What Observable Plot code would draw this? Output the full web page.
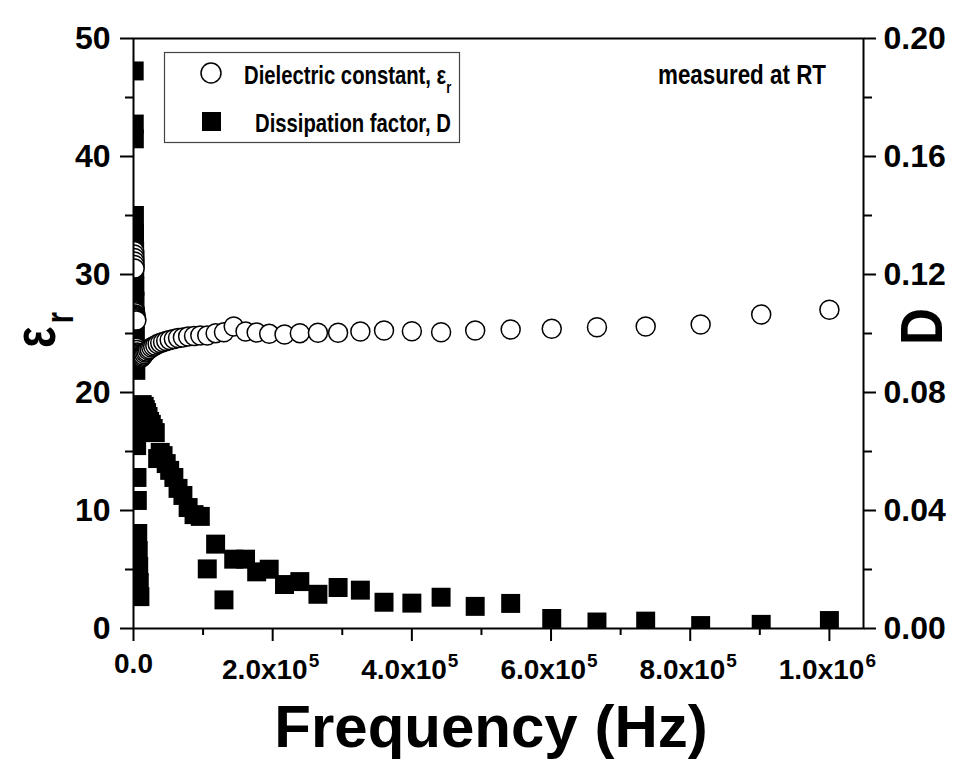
<!DOCTYPE html>
<html><head><meta charset="utf-8">
<script src="https://cdn.jsdelivr.net/npm/d3@7"></script>
<script src="https://cdn.jsdelivr.net/npm/@observablehq/plot@0.6"></script>
<style>
html,body{margin:0;padding:0;background:#fff;}
#chart{position:relative;width:955px;height:760px;}
svg text{font-family:'Liberation Sans',Arial,sans-serif;}
</style></head><body><div id="chart"></div>
<script>
// Frequency sweep (Hz), ascending
const frequency = [
  1000, 1100, 1200, 1350, 1500, 1650, 1800, 2000, 2200, 2500, 2700, 3000, 3350, 3700, 4100, 4500, 5000, 5500, 6100, 6800, 7500, 8300, 9200,
  10200, 11300, 12500, 13900, 15400, 17000, 18800, 20900, 23100, 25600, 28300, 31300, 34700, 38400, 42500, 47000, 52000, 58000, 64000, 71000, 78500, 87000, 96000,
  106000, 118000, 130000, 144000, 161000, 177000, 195000, 217000, 239000, 265000, 294000, 326000, 360000, 400000, 442000, 491000, 542000, 601000, 666000, 736000, 815000, 902000, 1000000
];
// Dielectric constant, epsilon_r (left axis)
const epsilonR = [
  32.0, 31.7, 31.4, 31.1, 30.8, 30.5, 27.0, 26.9, 26.8, 26.6, 26.5, 26.4, 26.3, 26.2, 26.1, 23.8, 23.6, 23.4, 23.3, 23.2, 23.1, 23.0, 22.95,
  22.92, 22.97, 23.05, 23.14, 23.26, 23.39, 23.47, 23.60, 23.69, 23.81, 23.90, 23.98, 24.11, 24.19, 24.28, 24.36, 24.45, 24.53, 24.62, 24.66, 24.75, 24.79, 24.83,
  24.83, 25.03, 25.11, 25.59, 25.17, 25.08, 24.97, 24.92, 25.03, 25.06, 25.06, 25.17, 25.25, 25.19, 25.11, 25.25, 25.34, 25.40, 25.53, 25.59, 25.76, 26.61, 27.01
];
// Dissipation factor, D (right axis)
const dissipation = [
  0.189, 0.171, 0.166, 0.140, 0.134, 0.128, 0.122, 0.116, 0.111, 0.105, 0.099, 0.094, 0.0875, 0.0732, 0.0678, 0.062, 0.0512, 0.0434, 0.0322, 0.0264, 0.021, 0.0156, 0.0108,
  0.0745, 0.0749, 0.0759, 0.0739, 0.0753, 0.0742, 0.0732, 0.0719, 0.0702, 0.0692, 0.0678, 0.0664, 0.0576, 0.0597, 0.0586, 0.0559, 0.0536, 0.0512, 0.0475, 0.0451, 0.0410, 0.0386, 0.0380,
  0.0202, 0.0286, 0.0097, 0.0235, 0.0235, 0.0192, 0.0201, 0.0149, 0.0159, 0.0116, 0.0139, 0.0130, 0.0089, 0.0086, 0.0106, 0.0075, 0.0085, 0.0034, 0.0022, 0.0025, 0.0010, 0.0014, 0.0027
];

const xTickValues = [0, 200000, 400000, 600000, 800000, 1000000];
const xTickMantissa = ["0.0", "2.0x10", "4.0x10", "6.0x10", "8.0x10", "1.0x10"];
const xTickExponent = ["", "5", "5", "5", "5", "6"];
const xMinorTicks = [100000, 300000, 500000, 700000, 900000];
const yLeftTicks = [0, 10, 20, 30, 40, 50];
const yLeftMinor = [5, 15, 25, 35, 45];
const dRightTicks = [0, 0.04, 0.08, 0.12, 0.16, 0.20];
const dRightLabels = ["0.00", "0.04", "0.08", "0.12", "0.16", "0.20"];
const dRightMinor = [0.02, 0.06, 0.10, 0.14, 0.18];
const seriesLabels = ["Dielectric constant, ", "Dissipation factor, D"];
const xTitle = "Frequency (Hz)";
const note = "measured at RT";

// D axis maps 0..0.20 onto the same vertical range as epsilon 0..50
const D_TO_EPS = 50 / 0.2;
const rows = frequency.map((f, i) => ({f, eps: epsilonR[i], D: dissipation[i]}));
const xTicks = xTickValues.map((v, i) => ({v, m: xTickMantissa[i], e: xTickExponent[i]}));
const FONT = "'Liberation Sans', Arial, sans-serif";

const plot = Plot.plot({
  width: 955, height: 760,
  marginLeft: 133, marginRight: 92, marginTop: 38, marginBottom: 132,
  style: {fontFamily: FONT, background: "white", color: "black", overflow: "visible", fontWeight: "bold"},
  x: {domain: [0, 1049000], axis: null, label: null},
  y: {domain: [0, 50], axis: null, label: null},
  marks: [
    Plot.dot(rows, {x: "f", y: d => d.D * D_TO_EPS, symbol: "square", r: 10.7, fill: "black", stroke: "none", clip: true}),
    Plot.dot(rows, {x: "f", y: "eps", r: 9.5, fill: "white", stroke: "black", strokeWidth: 1.5, clip: true}),
    Plot.frame({stroke: "black", strokeWidth: 2}),
    // left axis
    Plot.axisY(yLeftTicks, {anchor: "left", tickSize: 13, tickPadding: 10, strokeWidth: 2, fontSize: 32, fontWeight: "bold", label: null}),
    Plot.axisY(yLeftMinor, {anchor: "left", tickSize: 8, strokeWidth: 2, fill: "none", label: null}),
    // right axis (D)
    Plot.axisY(dRightTicks.map(d => d * D_TO_EPS), {anchor: "right", tickSize: 12, tickPadding: 8, strokeWidth: 2, fontSize: 32, fontWeight: "bold", label: null,
      tickFormat: (d) => dRightLabels[dRightTicks.findIndex(t => Math.abs(t * D_TO_EPS - d) < 1e-6)]}),
    Plot.axisY(dRightMinor.map(d => d * D_TO_EPS), {anchor: "right", tickSize: 8, strokeWidth: 2, fill: "none", label: null}),
    // bottom axis ticks
    Plot.axisX(xTickValues, {anchor: "bottom", tickSize: 13, strokeWidth: 2, fill: "none", label: null}),
    Plot.axisX(xMinorTicks, {anchor: "bottom", tickSize: 7, strokeWidth: 2, fill: "none", label: null}),
    // bottom tick labels with superscript exponents
    Plot.text(xTicks.filter(t => !t.e), {x: "v", frameAnchor: "bottom", text: "m", dy: 44, lineAnchor: "bottom", fontSize: 28, fontWeight: "bold", fill: "black"}),
    Plot.text(xTicks.filter(t => t.e), {x: "v", frameAnchor: "bottom", text: "m", dx: 35, dy: 50, textAnchor: "end", lineAnchor: "bottom", fontSize: 28, fontWeight: "bold", fill: "black"}),
    Plot.text(xTicks.filter(t => t.e), {x: "v", frameAnchor: "bottom", text: "e", dx: 36, dy: 38, textAnchor: "start", lineAnchor: "bottom", fontSize: 19, fontWeight: "bold", fill: "black"})
  ]
});
document.getElementById("chart").appendChild(plot);

const svg = d3.select(plot);
// legend
const leg = svg.append("g").attr("text-anchor", "start");
leg.append("rect").attr("x", 164.5).attr("y", 52.5).attr("width", 295).attr("height", 90)
  .attr("fill", "white").attr("stroke", "#444").attr("stroke-width", 1.2);
leg.append("circle").attr("cx", 211).attr("cy", 73).attr("r", 10)
  .attr("fill", "white").attr("stroke", "black").attr("stroke-width", 1.5);
leg.append("rect").attr("x", 202).attr("y", 112).attr("width", 19).attr("height", 19).attr("fill", "black");
const t1 = leg.append("text").attr("text-anchor", "start").attr("transform", "translate(244,84) scale(0.78,1)")
  .attr("font-size", 26).attr("font-weight", "bold").attr("fill", "black");
t1.append("tspan").text(seriesLabels[0]);
t1.append("tspan").attr("font-size", 26).text("ε");
t1.append("tspan").attr("font-size", 17).attr("dy", 9).text("r");
leg.append("text").attr("text-anchor", "start").attr("transform", "translate(255,132) scale(0.78,1)")
  .attr("font-size", 26).attr("font-weight", "bold").attr("fill", "black").text(seriesLabels[1]);

// annotation
svg.append("text").attr("text-anchor", "start").attr("transform", "translate(658,84) scale(0.8,1)")
  .attr("font-size", 28).attr("font-weight", "bold").attr("fill", "black").text(note);

// x title
svg.append("text").attr("x", 491).attr("y", 747).attr("text-anchor", "middle")
  .attr("font-size", 60).attr("font-weight", "bold").attr("fill", "black").text(xTitle);

// left y title: epsilon_r
const yl = svg.append("g").attr("text-anchor", "start").attr("transform", "translate(55,348) rotate(-90) scale(0.75,1)");
yl.append("text").attr("text-anchor", "start").attr("x", 0).attr("y", 0).attr("font-size", 60).attr("font-weight", "bold").attr("fill", "black").text("ε");
yl.append("text").attr("text-anchor", "start").attr("x", 33).attr("y", 18).attr("font-size", 38).attr("font-weight", "bold").attr("fill", "black").text("r");

// right y title: D
svg.append("g").attr("transform", "translate(942,326.5) rotate(-90) scale(0.85,1)")
  .append("text").attr("text-anchor", "middle").attr("font-size", 60).attr("font-weight", "bold").attr("fill", "black").text("D");
</script></body></html>
